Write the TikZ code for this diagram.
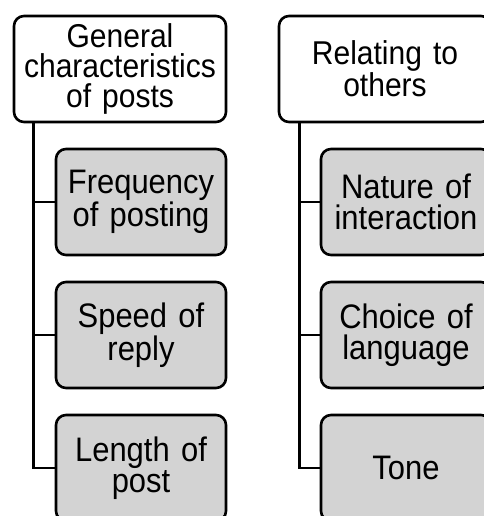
\documentclass[tikz,border=0pt]{standalone}
\usepackage{fontspec}
\setmainfont{Liberation Sans}[FakeStretch=0.91]
\definecolor{boxgrey}{RGB}{211,211,211}
\begin{document}
\begin{tikzpicture}[x=1pt,y=-1pt,
  box/.style={draw=black, line width=2.6pt, rounded corners=10pt, align=center, inner sep=0pt},
  head/.style={box, fill=white, minimum width=212pt, minimum height=106pt, text width=205pt, font=\fontsize{33}{30}\selectfont},
  item/.style={box, fill=boxgrey, minimum width=170pt, minimum height=106pt, text width=165pt, font=\fontsize{34}{31}\selectfont},
  conn/.style={line width=2.6pt}]
\useasboundingbox (0,0) rectangle (483,516);
% left column
\node[head] (h1) at (120,69) {General\\characteristics\\of posts};
\node[item] (a1) at (141,202) {Frequency\\of posting};
\node[item] (a2) at (141,335) {Speed of\\reply};
\node[item] (a3) at (141,468) {Length of\\post};
% right column
\node[head] (h2) at (385,69) {Relating to\\others};
\node[item] (b1) at (406,202) {Nature of\\interaction};
\node[item] (b2) at (406,335) {Choice of\\language};
\node[item] (b3) at (406,468) {Tone};
% connectors
\coordinate (t1) at ([xshift=21pt]h1.south west);
\coordinate (t2) at ([xshift=22pt]h2.south west);
\draw[conn] (t1) |- (a1.west);
\draw[conn] (t1) |- (a2.west);
\draw[conn] (t1) |- (a3.west);
\draw[conn] (t2) |- (b1.west);
\draw[conn] (t2) |- (b2.west);
\draw[conn] (t2) |- (b3.west);
\end{tikzpicture}
\end{document}
